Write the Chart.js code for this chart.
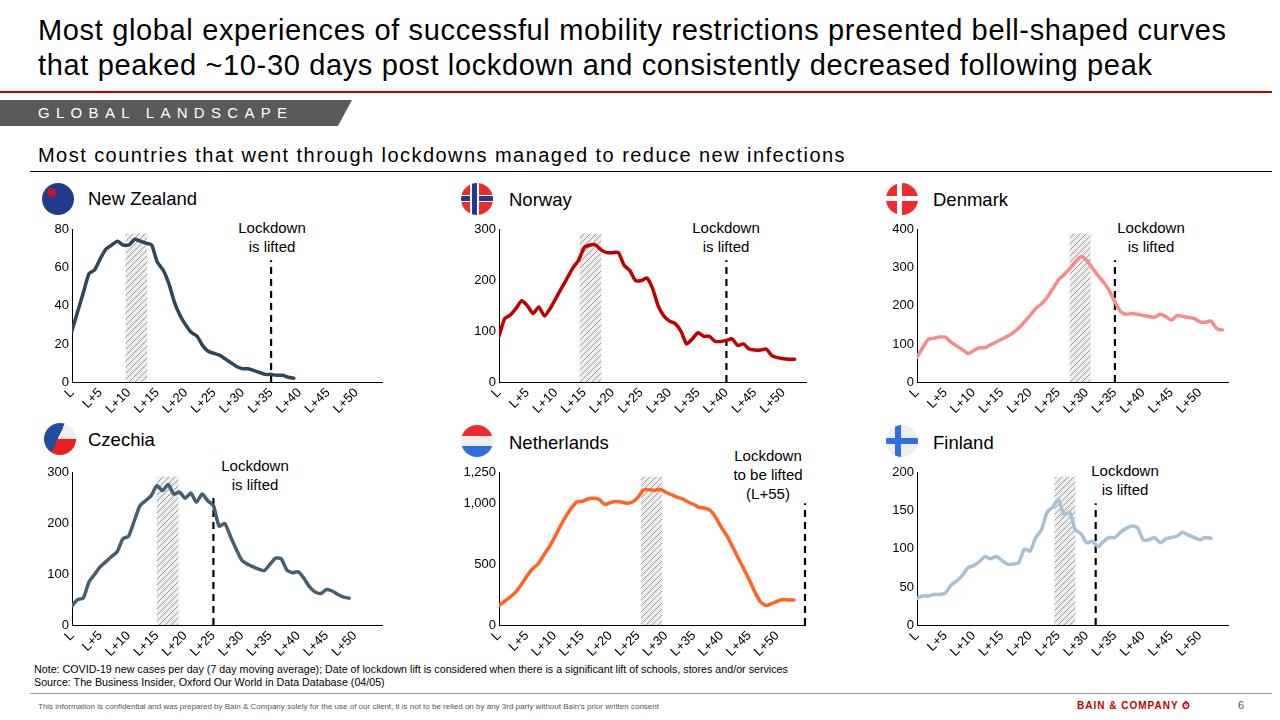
<!DOCTYPE html>
<html><head><meta charset="utf-8">
<script src="https://cdn.jsdelivr.net/npm/chart.js@4"></script>
<style>
body{margin:0;width:1280px;height:720px;position:relative;font-family:"Liberation Sans",Arial,sans-serif;background:#fff;overflow:hidden}
.abs{position:absolute}
.title{left:38px;top:13px;font-size:29px;letter-spacing:0.65px;line-height:35px;color:#000;white-space:nowrap}
.cname{font-size:18.5px;color:#000}
.flag{width:32px;height:32px;border-radius:50%}
.lock{font-size:15px;text-align:center;line-height:19px;color:#000}
</style></head><body>
<div class="abs title">Most global experiences of successful mobility restrictions presented bell-shaped curves<br>that peaked ~10-30 days post lockdown and consistently decreased following peak</div>
<div class="abs" style="left:0;top:91px;width:1272px;height:2px;background:#c00000"></div>
<div class="abs" style="left:0;top:100px;width:352px;height:26px;background:#5a5a5a;clip-path:polygon(0 0,100% 0,96% 100%,0 100%)"></div>
<div class="abs" style="left:38px;top:104px;font-size:15px;letter-spacing:6.3px;color:#fff">GLOBAL LANDSCAPE</div>
<div class="abs" style="left:38px;top:144px;font-size:20px;letter-spacing:1.45px;color:#000;white-space:nowrap">Most countries that went through lockdowns managed to reduce new infections</div>
<div class="abs" style="left:30px;top:171px;width:1242px;height:1px;background:#000"></div>

<div class="abs flag" style="left:42px;top:183px;background:radial-gradient(circle at 30% 30%,#c8102e 0 4px,transparent 5px),#1f3c8c"></div>
<div class="abs cname" style="left:88px;top:188px">New Zealand</div>
<div class="abs flag" style="left:461px;top:183px;background:linear-gradient(90deg,transparent 9px,#fff 9px,#fff 11px,#1f3c8c 11px,#1f3c8c 16px,#fff 16px,#fff 18px,transparent 18px),linear-gradient(180deg,#ef2b2d 12px,#fff 12px,#fff 13px,#1f3c8c 13px,#1f3c8c 18px,#fff 18px,#fff 19px,#ef2b2d 19px)"></div>
<div class="abs cname" style="left:509px;top:189px">Norway</div>
<div class="abs flag" style="left:886px;top:183px;background:linear-gradient(90deg,transparent 11px,#fff 11px,#fff 16px,transparent 16px),linear-gradient(180deg,#ef2b2d 13px,#fff 13px,#fff 18px,#ef2b2d 18px)"></div>
<div class="abs cname" style="left:933px;top:189px">Denmark</div>
<div class="abs flag" style="left:44px;top:423px;background:linear-gradient(115deg,#1f4f9c 45%,transparent 45%),linear-gradient(180deg,#eee 50%,#e8201f 50%)"></div>
<div class="abs cname" style="left:88px;top:429px">Czechia</div>
<div class="abs flag" style="left:461px;top:425px;background:linear-gradient(180deg,#ef2b2d 33%,#eee 33%,#eee 66%,#2f6fe0 66%)"></div>
<div class="abs cname" style="left:509px;top:432px">Netherlands</div>
<div class="abs flag" style="left:886px;top:425px;background:linear-gradient(90deg,transparent 9px,#2f6fe0 9px,#2f6fe0 15px,transparent 15px),linear-gradient(180deg,#eee 13px,#2f6fe0 13px,#2f6fe0 19px,#eee 19px)"></div>
<div class="abs cname" style="left:933px;top:432px">Finland</div>

<div class="abs lock" style="left:222px;top:218px;width:100px">Lockdown<br>is lifted</div>
<div class="abs lock" style="left:676px;top:218px;width:100px">Lockdown<br>is lifted</div>
<div class="abs lock" style="left:1101px;top:218px;width:100px">Lockdown<br>is lifted</div>
<div class="abs lock" style="left:205px;top:456px;width:100px">Lockdown<br>is lifted</div>
<div class="abs lock" style="left:718px;top:446px;width:100px">Lockdown<br>to be lifted<br>(L+55)</div>
<div class="abs lock" style="left:1075px;top:461px;width:100px">Lockdown<br>is lifted</div>

<div class="abs" style="left:34px;top:663px;font-size:10.7px;line-height:12.5px;color:#000;white-space:nowrap">Note: COVID-19 new cases per day (7 day moving average); Date of lockdown lift is considered when there is a significant lift of schools, stores and/or services<br>Source: The Business Insider, Oxford Our World in Data Database (04/05)</div>
<div class="abs" style="left:30px;top:693px;width:1242px;height:1px;background:#999"></div>
<div class="abs" style="left:38px;top:702px;font-size:8px;color:#555">This information is confidential and was prepared by Bain &amp; Company solely for the use of our client; it is not to be relied on by any 3rd party without Bain's prior written consent</div>
<div class="abs" style="left:1077px;top:700px;font-size:10px;font-weight:bold;letter-spacing:1px;color:#c00000">BAIN &amp; COMPANY ⏱</div>
<div class="abs" style="left:1238px;top:699px;font-size:11px;color:#555">6</div>

<script>
const nzValues=[27,37,47,57,59,65,70,72,74,72,72,75,74,73,72,63,59,52,42,35,30,26,24,19,16,15,14,12,10,8,7,7,6,5,4,4,3.5,3.5,2.5,2];
const norwayValues=[90,125,132,145,160,150,135,148,130,145,165,185,205,225,240,265,270,270,260,255,255,255,230,220,200,200,205,185,150,130,120,115,100,75,85,97,90,90,80,80,82,85,72,75,65,63,63,65,52,48,46,45,45];
const denmarkValues=[65,90,112,115,118,118,105,95,85,75,82,90,90,98,105,113,120,130,142,158,175,193,205,222,245,268,282,298,315,330,320,300,280,262,240,210,185,178,180,178,175,172,170,178,172,162,175,172,170,167,158,157,160,140,137];
const czechiaValues=[38,50,53,85,100,115,125,135,145,170,175,205,235,245,255,275,265,277,258,262,250,260,242,258,245,235,195,200,175,150,128,120,115,110,107,120,132,130,108,103,105,92,75,65,62,70,67,60,55,53];
const netherlandsValues=[160,195,230,270,330,400,460,500,570,640,720,810,890,960,1010,1015,1035,1040,1030,990,1005,1015,1010,1000,1010,1050,1110,1110,1105,1115,1090,1070,1050,1035,1010,990,965,960,940,880,800,730,640,550,460,370,270,190,160,175,195,210,205,205];
const finlandValues=[35,38,38,40,40,42,52,58,65,75,78,83,90,87,90,85,80,80,82,100,97,115,125,148,155,165,145,148,125,120,108,110,103,110,115,115,122,127,130,128,112,112,115,108,113,115,117,122,118,115,112,115,114];
const xTickLabels=['L','L+5','L+10','L+15','L+20','L+25','L+30','L+35','L+40','L+45','L+50'];
const nzTicks=[0,20,40,60,80], hTicks300=[0,100,200,300], dkTicks=[0,100,200,300,400], nlTicks=[0,500,1000,1250], fiTicks=[0,50,100,150,200];

const panels=[
 {data:nzValues,color:'#2d4659',ymax:80,ticks:nzTicks,shade:[9.4,13.2],lock:35,lockTop:64,x:72,r:382,top:225,bot:382,xmax:54.5},
 {data:norwayValues,color:'#c00000',ymax:300,ticks:hTicks300,shade:[14.2,18],lock:40,lockTop:240,x:499,r:806,top:225,bot:382,xmax:54},
 {data:denmarkValues,color:'#f58c8c',ymax:400,ticks:dkTicks,shade:[27,30.7],lock:35,lockTop:320,x:917,r:1228,top:225,bot:382,xmax:55},
 {data:czechiaValues,color:'#465e72',ymax:300,ticks:hTicks300,shade:[15,18.8],lock:25,lockTop:255,x:72,r:382,top:468,bot:625,xmax:54.8},
 {data:netherlandsValues,color:'#ff6421',ymax:1250,ticks:nlTicks,shade:[25.5,29.3],lock:55,lockTop:1000,x:499,r:805,top:468,bot:625,xmax:55},
 {data:finlandValues,color:'#a9bfd6',ymax:200,ticks:fiTicks,shade:[24.3,28],lock:31.6,lockTop:160,x:917,r:1228,top:468,bot:625,xmax:55}
];

function hatch(){const c=document.createElement('canvas');c.width=6;c.height=6;const g=c.getContext('2d');g.fillStyle='#eee';g.fillRect(0,0,6,6);g.strokeStyle='#888';g.lineWidth=0.8;g.beginPath();g.moveTo(0,6);g.lineTo(6,0);g.moveTo(-1,1);g.lineTo(1,-1);g.moveTo(5,7);g.lineTo(7,5);g.stroke();return g.createPattern(c,'repeat');}

const YW=50, XH=42, PT=6;
panels.forEach((p,i)=>{
  const d=document.createElement('div');d.className='abs';
  d.style.left=(p.x-YW)+'px';d.style.top=(p.top-PT)+'px';
  d.style.width=(p.r-p.x+YW+6)+'px';d.style.height=(p.bot-p.top+PT+XH)+'px';
  const cv=document.createElement('canvas');d.appendChild(cv);document.body.appendChild(d);
  const shadePlugin={id:'shade'+i,beforeDatasetsDraw(ch){const xs=ch.scales.x,ys=ch.scales.y,c=ch.ctx;
    const x0=xs.getPixelForValue(p.shade[0]),x1=xs.getPixelForValue(p.shade[1]);const y0=ys.getPixelForValue(p.ymax*0.975),y1=ys.getPixelForValue(0);
    c.save();c.fillStyle=hatch();c.fillRect(x0,y0,x1-x0,y1-y0);c.restore();}};
  new Chart(cv,{type:'line',
    data:{datasets:[
      {data:p.data.map((v,k)=>({x:k,y:v})),borderColor:p.color,borderWidth:3.5,pointRadius:0,tension:0.2,borderCapStyle:'round'},
      {data:[{x:p.lock,y:0},{x:p.lock,y:p.lockTop}],borderColor:'#000',borderWidth:2.2,borderDash:[7,5],pointRadius:0,clip:false}
    ]},
    plugins:[shadePlugin],
    options:{animation:false,responsive:true,maintainAspectRatio:false,
      layout:{padding:{top:PT,right:6,left:0,bottom:0}},
      plugins:{legend:{display:false},tooltip:{enabled:false}},
      scales:{
        x:{type:'linear',min:0,max:p.xmax,grid:{display:false,drawTicks:false},border:{color:'#000',width:1},
          afterBuildTicks:a=>{a.ticks=xTickLabels.map((t,k)=>({value:k*5}));},
          afterFit:a=>{a.height=XH;},
          ticks:{autoSkip:false,minRotation:45,maxRotation:45,padding:3,color:'#000',font:{family:'Liberation Sans',size:13},callback:(v)=>xTickLabels[v/5]}},
        y:{min:0,max:p.ymax,grid:{display:false,drawTicks:false},border:{color:'#000',width:1},
          afterBuildTicks:a=>{a.ticks=p.ticks.map(v=>({value:v}));},
          afterFit:a=>{a.width=YW;},
          ticks:{padding:3,color:'#000',font:{family:'Liberation Sans',size:13},callback:v=>v.toLocaleString('en-US')}}
      }}});
});
</script>
</body></html>
